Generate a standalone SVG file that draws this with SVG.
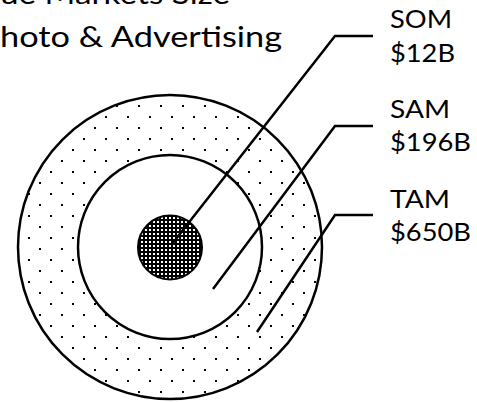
<svg xmlns="http://www.w3.org/2000/svg" width="477" height="402" viewBox="0 0 477 402">
  <style>
    .ring { stroke: #000; stroke-width: 2.5; }
    .title { font-family: Lato, "Open Sans", "Liberation Sans", sans-serif; font-size: 29px; fill: #000; }
    .lbl { font-family: Lato, "Open Sans", "Liberation Sans", sans-serif; font-size: 25.5px; fill: #000; }
    .conn { fill: none; stroke: #000; stroke-width: 2.5; stroke-linejoin: miter; }
  </style>
  <defs>
    <pattern id="dots" patternUnits="userSpaceOnUse" width="22" height="22">
      <rect x="6" y="17" width="2" height="2" fill="#000"/>
      <rect x="17" y="6" width="2" height="2" fill="#000"/>
    </pattern>
    <pattern id="grid" patternUnits="userSpaceOnUse" width="4" height="4">
      <rect width="4" height="4" fill="#000"/>
      <rect x="1" y="1" width="2" height="2" fill="#fff"/>
    </pattern>
  </defs>
  <rect width="477" height="402" fill="#fff"/>
  <g id="title">
    <text class="title" x="0" y="3.5" textLength="230" lengthAdjust="spacingAndGlyphs">ue Markets Size</text>
    <text class="title" x="0" y="46.5" textLength="282" lengthAdjust="spacingAndGlyphs">hoto &amp; Advertising</text>
  </g>
  <g id="tam">
    <circle class="ring" cx="170" cy="247" r="152" fill="url(#dots)"/>
  </g>
  <g id="sam">
    <circle class="ring" cx="170" cy="247" r="92" fill="#fff"/>
  </g>
  <g id="som">
    <circle cx="170" cy="247.5" r="32" fill="url(#grid)" stroke="#000" stroke-width="2"/>
  </g>
  <g id="connectors">
    <polyline class="conn" points="172,244 335,36 373,36"/>
    <polyline class="conn" points="213,289 335,126 373,126"/>
    <polyline class="conn" points="257,332 335,215 373,215"/>
  </g>
  <g id="label-som">
    <text class="lbl" x="390" y="28.3" textLength="62" lengthAdjust="spacingAndGlyphs">SOM</text>
    <text class="lbl" x="390" y="62" textLength="65" lengthAdjust="spacingAndGlyphs">$12B</text>
  </g>
  <g id="label-sam">
    <text class="lbl" x="390" y="118.3" textLength="60" lengthAdjust="spacingAndGlyphs">SAM</text>
    <text class="lbl" x="390" y="151" textLength="81" lengthAdjust="spacingAndGlyphs">$196B</text>
  </g>
  <g id="label-tam">
    <text class="lbl" x="390" y="208.3" textLength="60" lengthAdjust="spacingAndGlyphs">TAM</text>
    <text class="lbl" x="390" y="241" textLength="81" lengthAdjust="spacingAndGlyphs">$650B</text>
  </g>
</svg>
